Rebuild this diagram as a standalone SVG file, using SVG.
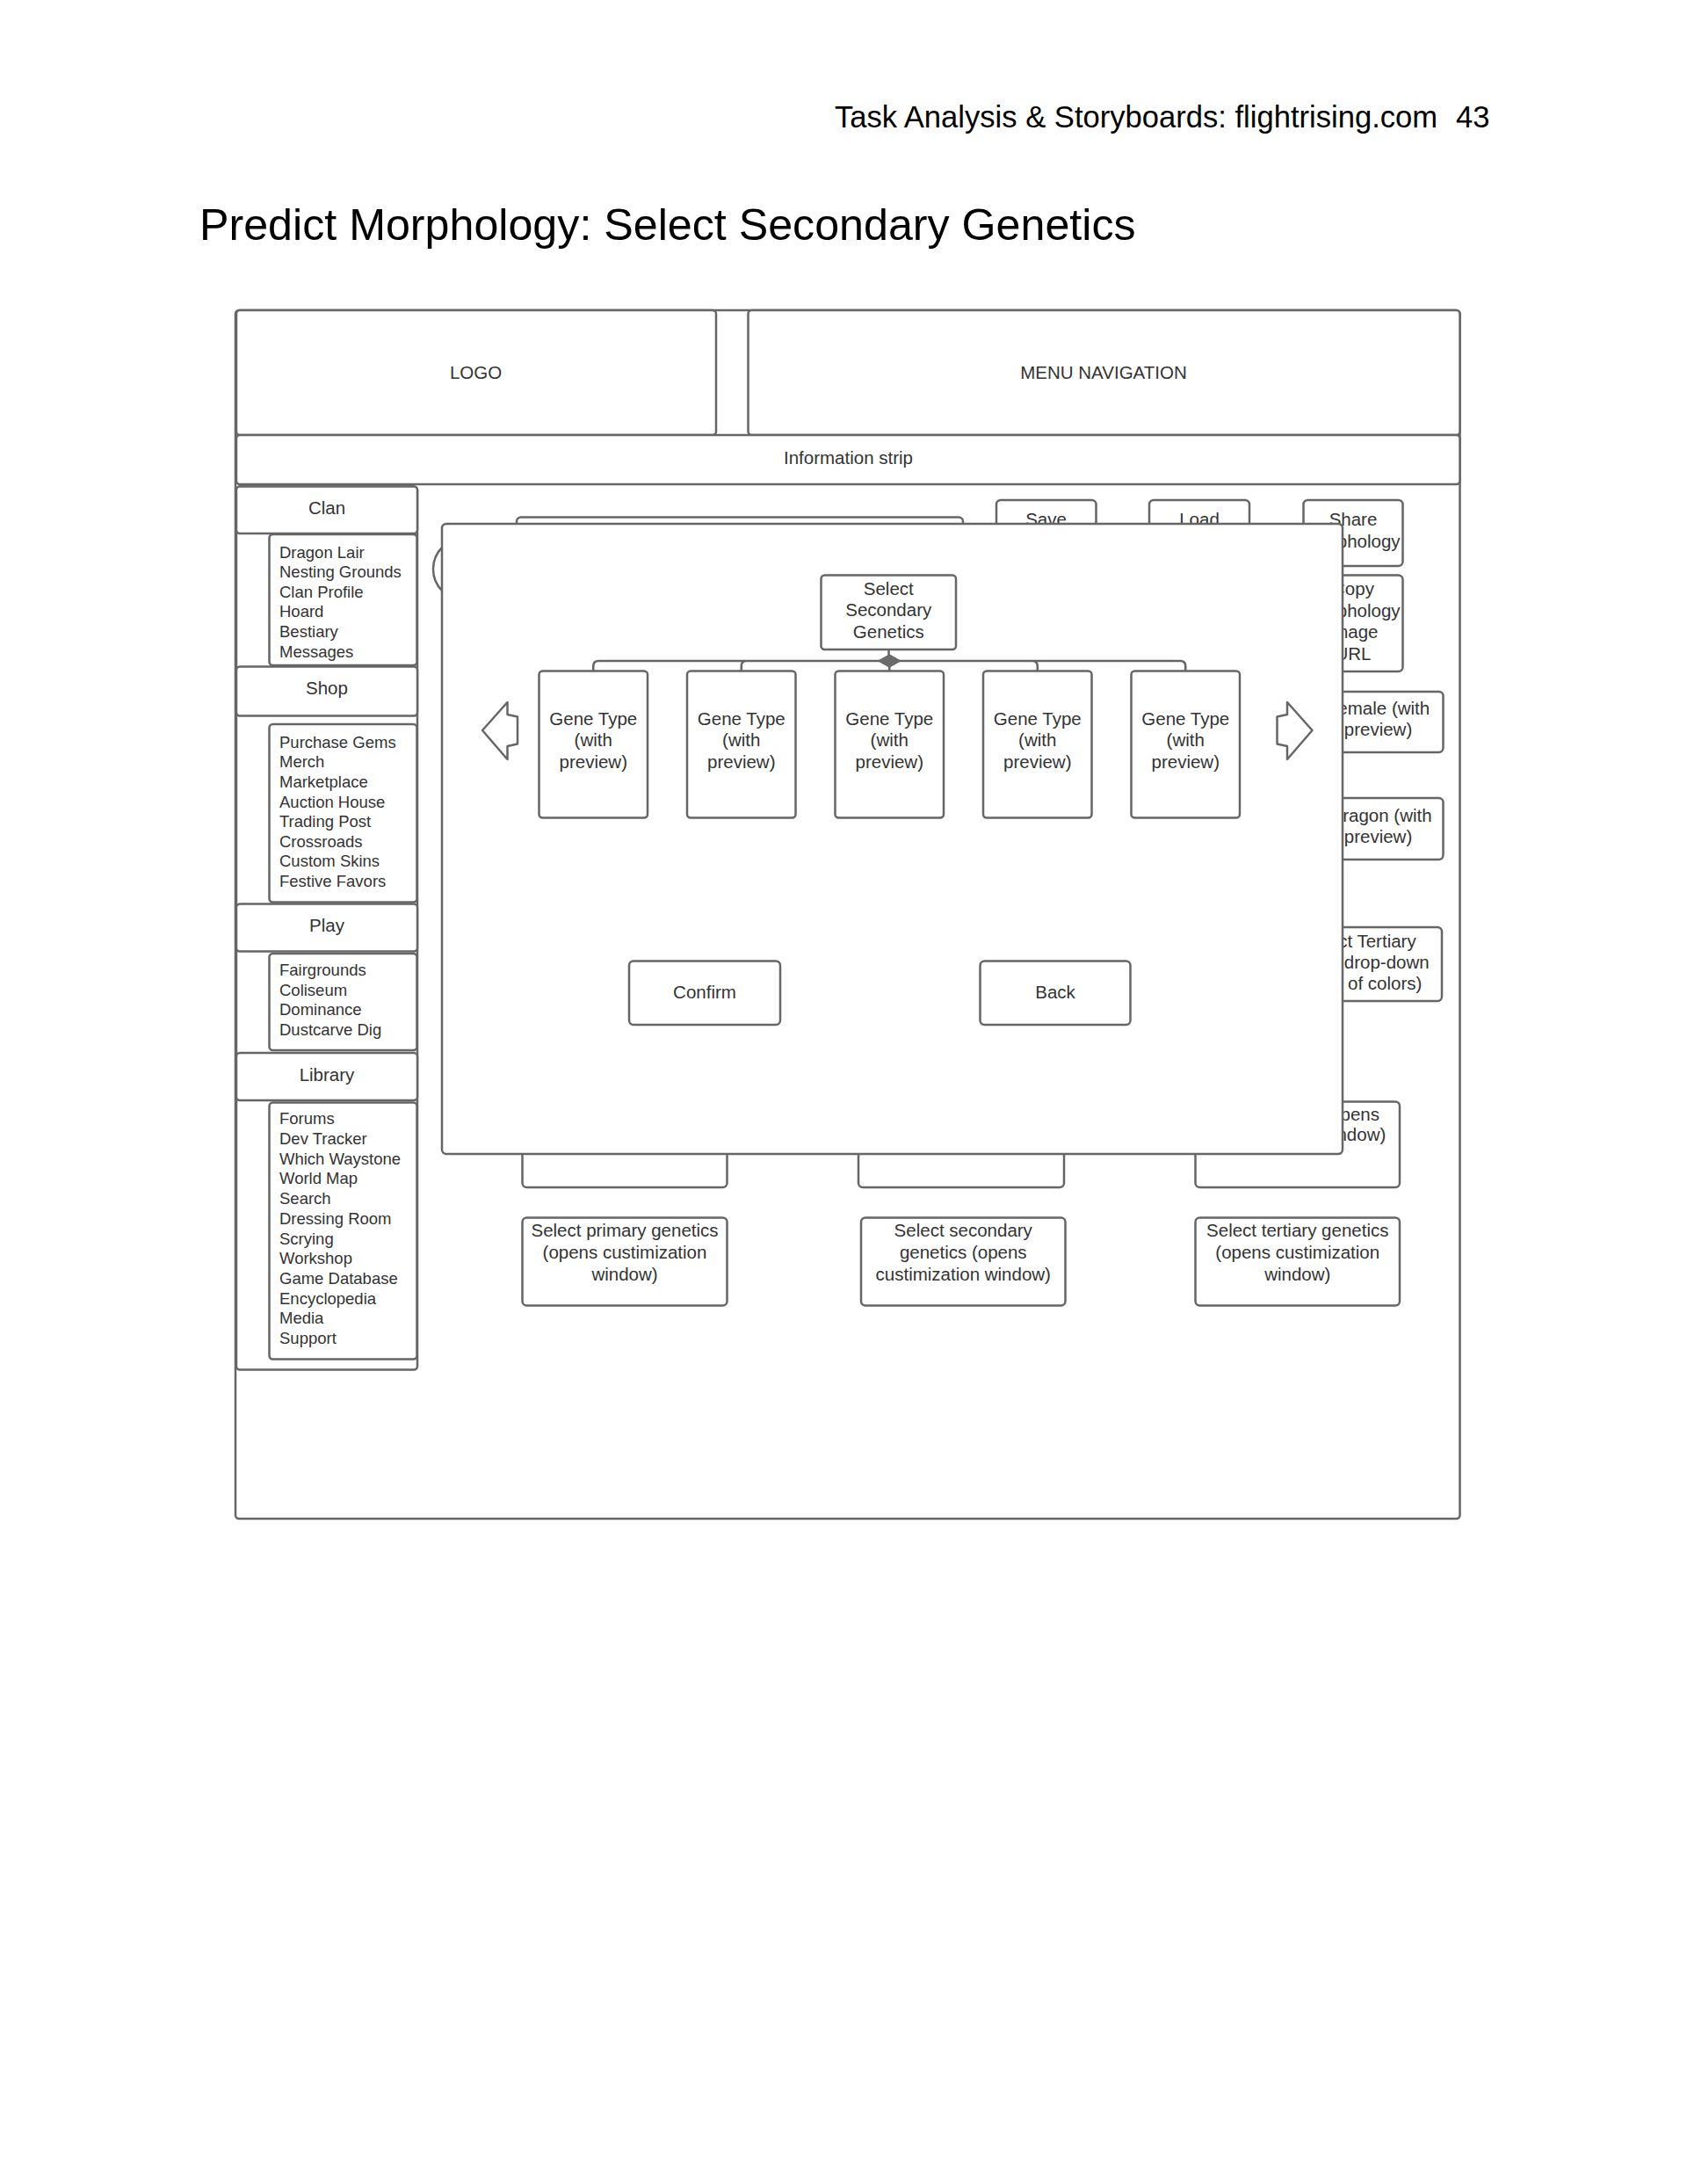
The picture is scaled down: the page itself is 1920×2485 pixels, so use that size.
<svg xmlns="http://www.w3.org/2000/svg" width="1920" height="2485" viewBox="0 0 1920 2485">
<style>
.b{fill:#fff;stroke:#666;stroke-width:2.5}
.t{font-family:"Liberation Sans",Arial,sans-serif;font-size:20.5px;fill:#333;text-anchor:middle}
.e{text-anchor:end}
.s{font-family:"Liberation Sans",Arial,sans-serif;font-size:18.5px;fill:#333}
.c{fill:none;stroke:#666;stroke-width:2.5}
.h{font-family:"Liberation Sans",Arial,sans-serif;fill:#000}
</style>
<rect width="1920" height="2485" fill="#fff"/>
<text class="h" x="950" y="145" font-size="34.6">Task Analysis &amp; Storyboards: flightrising.com<tspan x="1657">43</tspan></text>
<text class="h" x="227" y="273" font-size="50.2">Predict Morphology: Select Secondary Genetics</text>

<g id="frame"><rect class="b" x="268" y="353" width="1393.5" height="1375" rx="4"/></g>
<g id="logo"><rect class="b" x="269" y="353" width="546" height="142" rx="4"/><text class="t" x="541.5" y="431">LOGO</text></g>
<g id="menu"><rect class="b" x="851.5" y="353" width="810" height="142" rx="4"/><text class="t" x="1256" y="431">MENU NAVIGATION</text></g>
<g id="info"><rect class="b" x="269" y="495" width="1392.5" height="56" rx="4"/><text class="t" x="965.5" y="527.5">Information strip</text></g>

<g id="sidebar">
<rect class="b" x="269" y="553.5" width="206" height="1005" rx="4"/>
<g id="clan"><rect class="b" x="269" y="553.5" width="206" height="53.5" rx="4"/><text class="t" x="372" y="584.5">Clan</text></g>
<g id="clan-items"><rect class="b" x="306.5" y="608" width="168" height="149" rx="4"/>
<text class="s" y="634.5"><tspan x="318">Dragon Lair</tspan><tspan x="318" dy="22.6">Nesting Grounds</tspan><tspan x="318" dy="22.6">Clan Profile</tspan><tspan x="318" dy="22.6">Hoard</tspan><tspan x="318" dy="22.6">Bestiary</tspan><tspan x="318" dy="22.6">Messages</tspan></text></g>
<g id="shop"><rect class="b" x="269" y="758.5" width="206" height="56" rx="4"/><text class="t" x="372" y="790">Shop</text></g>
<g id="shop-items"><rect class="b" x="306.5" y="824" width="168" height="202.5" rx="4"/>
<text class="s" y="850.7"><tspan x="318">Purchase Gems</tspan><tspan x="318" dy="22.6">Merch</tspan><tspan x="318" dy="22.6">Marketplace</tspan><tspan x="318" dy="22.6">Auction House</tspan><tspan x="318" dy="22.6">Trading Post</tspan><tspan x="318" dy="22.6">Crossroads</tspan><tspan x="318" dy="22.6">Custom Skins</tspan><tspan x="318" dy="22.6">Festive Favors</tspan></text></g>
<g id="play"><rect class="b" x="269" y="1028.5" width="206" height="54" rx="4"/><text class="t" x="372" y="1059.5">Play</text></g>
<g id="play-items"><rect class="b" x="306.5" y="1085" width="168" height="110" rx="4"/>
<text class="s" y="1110"><tspan x="318">Fairgrounds</tspan><tspan x="318" dy="22.6">Coliseum</tspan><tspan x="318" dy="22.6">Dominance</tspan><tspan x="318" dy="22.6">Dustcarve Dig</tspan></text></g>
<g id="library"><rect class="b" x="269" y="1198" width="206" height="54" rx="4"/><text class="t" x="372" y="1229.5">Library</text></g>
<g id="library-items"><rect class="b" x="306.5" y="1254.5" width="168" height="292" rx="4"/>
<text class="s" y="1279.3"><tspan x="318">Forums</tspan><tspan x="318" dy="22.7">Dev Tracker</tspan><tspan x="318" dy="22.7">Which Waystone</tspan><tspan x="318" dy="22.7">World Map</tspan><tspan x="318" dy="22.7">Search</tspan><tspan x="318" dy="22.7">Dressing Room</tspan><tspan x="318" dy="22.7">Scrying</tspan><tspan x="318" dy="22.7">Workshop</tspan><tspan x="318" dy="22.7">Game Database</tspan><tspan x="318" dy="22.7">Encyclopedia</tspan><tspan x="318" dy="22.7">Media</tspan><tspan x="318" dy="22.7">Support</tspan></text></g>
</g>

<g id="page-content">
<g id="name-field"><rect class="b" x="588" y="588.5" width="508" height="60" rx="5"/></g>
<g id="preview-circle"><circle class="b" cx="528" cy="647.5" r="35"/></g>
<g id="save"><rect class="b" x="1134" y="569" width="113.5" height="75" rx="5"/><text class="t" x="1190.5" y="598">Save</text></g>
<g id="load"><rect class="b" x="1308" y="569" width="114" height="75" rx="5"/><text class="t" x="1365" y="598">Load</text></g>
<g id="share"><rect class="b" x="1483.5" y="569" width="113" height="75" rx="5"/><text class="t" x="1540" y="597.5">Share</text><text class="t" x="1540" y="623">Morphology</text></g>
<g id="copy"><rect class="b" x="1483.5" y="654.5" width="113" height="109.5" rx="5"/><text class="t" x="1540" y="677">Copy</text><text class="t" x="1540" y="701.5">Morphology</text><text class="t" x="1540" y="726">Image</text><text class="t" x="1540" y="750.5">URL</text></g>
<g id="female"><rect class="b" x="1494.5" y="787" width="148" height="69" rx="5"/><text class="t" x="1568.5" y="813">Female (with</text><text class="t" x="1568.5" y="837">preview)</text></g>
<g id="dragon"><rect class="b" x="1494.5" y="908" width="148" height="70" rx="5"/><text class="t" x="1571.5" y="934.5">Dragon (with</text><text class="t" x="1568.5" y="958.5">preview)</text></g>
<g id="tertiary"><rect class="b" x="1489" y="1055" width="152" height="84" rx="5"/><text class="t e" x="1611.7" y="1078">Select Tertiary</text><text class="t e" x="1626.7" y="1102">(with drop-down</text><text class="t e" x="1618.3" y="1126">list of colors)</text></g>
<g id="preview-1"><rect class="b" x="594.5" y="1253.5" width="233" height="97.5" rx="5"/></g>
<g id="preview-2"><rect class="b" x="977" y="1253.5" width="234" height="97.5" rx="5"/></g>
<g id="preview-3"><rect class="b" x="1360.5" y="1253.5" width="232.5" height="97.5" rx="5"/><text class="t e" x="1570" y="1274.5">(opens</text><text class="t e" x="1577.3" y="1298">window)</text></g>
<g id="primary"><rect class="b" x="594.5" y="1385.5" width="233" height="100" rx="5"/><text class="t" x="711" y="1407">Select primary genetics</text><text class="t" x="711" y="1432">(opens custimization</text><text class="t" x="711" y="1457">window)</text></g>
<g id="secondary"><rect class="b" x="980" y="1385.5" width="232.5" height="100" rx="5"/><text class="t" x="1096.25" y="1407">Select secondary</text><text class="t" x="1096.25" y="1432">genetics (opens</text><text class="t" x="1096.25" y="1457">custimization window)</text></g>
<g id="tertiary-genetics"><rect class="b" x="1360.5" y="1385.5" width="232.5" height="100" rx="5"/><text class="t" x="1476.75" y="1407">Select tertiary genetics</text><text class="t" x="1476.75" y="1432">(opens custimization</text><text class="t" x="1476.75" y="1457">window)</text></g>
</g>

<g id="modal">
<rect class="b" x="503" y="596" width="1025" height="717" rx="5"/>
</g>

<g id="connectors">
<path class="c" d="M1011.5,739 V752 M1012.25,752 H681.25 Q675.25,752 675.25,758 V763.5 M1012.25,752 H849.75 Q843.75,752 843.75,758 V763.5 M1012.25,752 V763.5 M1012.25,752 H1174.75 Q1180.75,752 1180.75,758 V763.5 M1012.25,752 H1343.25 Q1349.25,752 1349.25,758 V763.5"/>
<polygon points="1000,752 1012.25,745 1024.5,752 1012.25,759" fill="#6b6b6b" stroke="#6b6b6b" stroke-width="1.5"/>
</g>

<g id="select-secondary"><rect class="b" x="934.5" y="654.5" width="153.5" height="84.5" rx="4"/><text class="t" x="1011.25" y="676.5">Select</text><text class="t" x="1011.25" y="701">Secondary</text><text class="t" x="1011.25" y="725.5">Genetics</text></g>
<g id="gene-1"><rect class="b" x="613.5" y="763.5" width="123.5" height="167" rx="4"/><text class="t" x="675.25" y="825">Gene Type</text><text class="t" x="675.25" y="849.3">(with</text><text class="t" x="675.25" y="873.5">preview)</text></g>
<g id="gene-2"><rect class="b" x="782" y="763.5" width="123.5" height="167" rx="4"/><text class="t" x="843.75" y="825">Gene Type</text><text class="t" x="843.75" y="849.3">(with</text><text class="t" x="843.75" y="873.5">preview)</text></g>
<g id="gene-3"><rect class="b" x="950.5" y="763.5" width="123.5" height="167" rx="4"/><text class="t" x="1012.25" y="825">Gene Type</text><text class="t" x="1012.25" y="849.3">(with</text><text class="t" x="1012.25" y="873.5">preview)</text></g>
<g id="gene-4"><rect class="b" x="1119" y="763.5" width="123.5" height="167" rx="4"/><text class="t" x="1180.75" y="825">Gene Type</text><text class="t" x="1180.75" y="849.3">(with</text><text class="t" x="1180.75" y="873.5">preview)</text></g>
<g id="gene-5"><rect class="b" x="1287.5" y="763.5" width="123.5" height="167" rx="4"/><text class="t" x="1349.25" y="825">Gene Type</text><text class="t" x="1349.25" y="849.3">(with</text><text class="t" x="1349.25" y="873.5">preview)</text></g>
<g id="arrow-left"><path class="b" stroke-linejoin="round" d="M549,831 L577.5,799 L577.5,813 L589,815.5 L589,846.5 L577.5,849 L577.5,864 Z"/></g>
<g id="arrow-right"><path class="b" stroke-linejoin="round" d="M1493.5,831 L1465,799 L1465,813 L1453.5,815.5 L1453.5,846.5 L1465,849 L1465,864 Z"/></g>
<g id="confirm"><rect class="b" x="716" y="1093.5" width="172" height="72.5" rx="5"/><text class="t" x="802" y="1136">Confirm</text></g>
<g id="back"><rect class="b" x="1115.5" y="1093.5" width="171" height="72.5" rx="5"/><text class="t" x="1201" y="1136">Back</text></g>
</svg>
